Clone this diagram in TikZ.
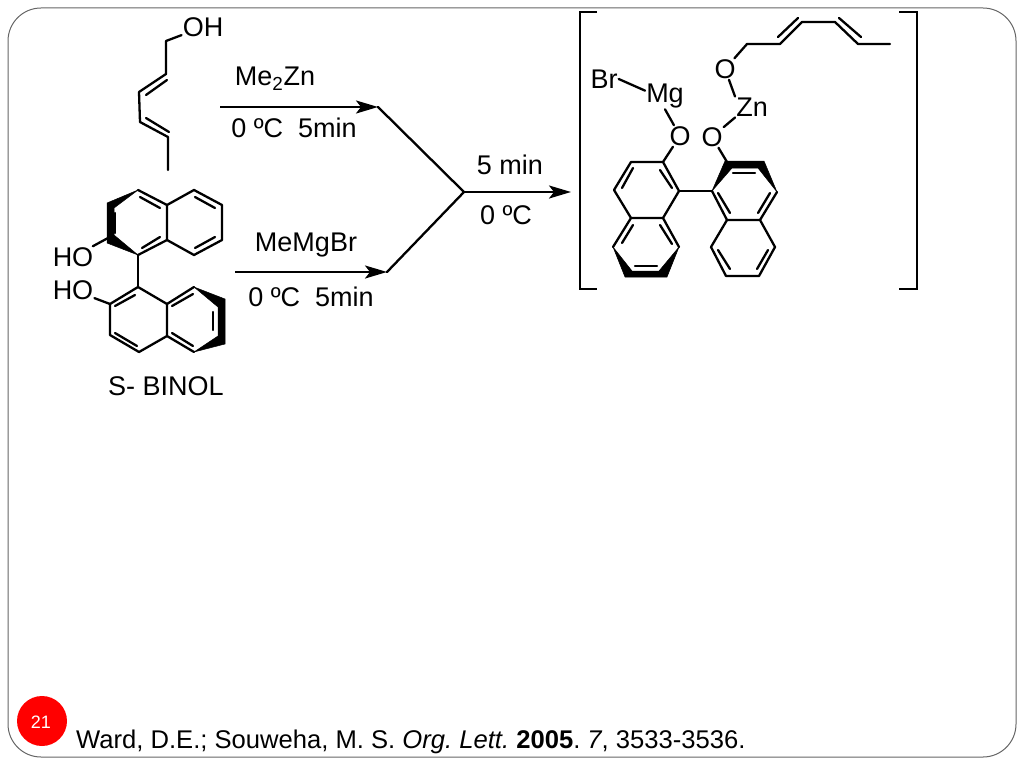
\documentclass[tikz,border=0pt]{standalone}
\usepackage{fontspec}
\setmainfont{Liberation Sans}
\usetikzlibrary{arrows.meta}
\tikzset{
  bond/.style={line width=2.3pt, line cap=round, line join=round},
  arrowline/.style={line width=2.3pt, -{Stealth[length=22pt, width=13pt, inset=5pt]}},
  label/.style={inner sep=1pt, font=\fontsize{27}{32}\selectfont},
  bold/.style={fill=black, draw=black, line width=0.5pt, line join=round}
}
\begin{document}
\begin{tikzpicture}[x=1pt, y=-1pt]
  \useasboundingbox (0, 0) rectangle (1024, 768);
  \draw [line width=1pt, color=black!60, rounded corners=33pt] (8, 8) rectangle (1016, 757);
  \node (pagedot) [circle, fill=red, inner sep=0pt, minimum size=50pt] at (42, 721) {};
  \node (pagenum) [text=white, font=\fontsize{18}{20}\selectfont] at (41, 722) {21};
  \node (cite) [anchor=west, inner sep=0pt, font=\fontsize{25.6}{30}\selectfont\frenchspacing] at (76, 742) {Ward, D.E.; Souweha, M. S. \textit{Org. Lett.} \textbf{2005}. \textit{7}, 3533-3536.};

  % dienol
  \node (dienoh) [label] at (203, 27) {OH};
  \coordinate (dien1) at (166, 41);
  \draw [bond] (dienoh) -- (dien1) -- (166, 74) -- (139, 92) -- (140, 122) -- (168, 137) -- (168, 170);
  \draw [bond] (146, 95) -- (167, 80);
  \draw [bond] (146, 118) -- (169, 132);

  % binol, upper naphthyl
  \coordinate (upc2) at (108, 238);
  \draw [bond] (138, 190) -- (167, 205) -- (167, 240) -- (138, 255);
  \draw [bond] (167, 205) -- (194, 190) -- (222, 205) -- (222, 240) -- (194, 255) -- (167, 240);
  \draw [bond] (115, 213) -- (115, 233);
  \draw [bond] (140, 197) -- (160, 208);
  \draw [bond] (142, 248) -- (160, 237);
  \draw [bond] (195, 197) -- (215, 208);
  \draw [bond] (195, 248) -- (215, 237);
  \fill [bold] (107, 203) -- (138, 190) -- (114, 208) -- (114, 235) -- (138, 255) -- (107, 243) -- cycle;

  % binol, lower naphthyl
  \coordinate (loc2) at (110, 304);
  \draw [bond] (138, 255) -- (138, 287);
  \draw [bond] (138, 287) -- (110, 304) -- (110, 335) -- (139, 352) -- (167, 336) -- (167, 304) -- (138, 287);
  \draw [bond] (167, 304) -- (194, 287);
  \draw [bond] (167, 336) -- (194, 352);
  \draw [bond] (115, 306) -- (135, 295);
  \draw [bond] (115, 333) -- (137, 346);
  \draw [bond] (172, 306) -- (193, 294);
  \draw [bond] (172, 333) -- (193, 346);
  \draw [bond] (213, 312) -- (213, 330);
  \fill [bold] (194, 287) -- (225, 299) -- (225, 344) -- (194, 352) -- (218, 336) -- (218, 307) -- cycle;

  \node (houp) [label] at (73, 257) {HO};
  \node (holo) [label] at (73, 290) {HO};
  \draw [bond] (houp) -- (upc2);
  \draw [bond] (holo) -- (loc2);
  \node (binol) [label] at (166, 386) {S- BINOL};

  % arrows
  \coordinate (me2znstart) at (220, 107);
  \coordinate (me2znend) at (378, 107);
  \coordinate (megstart) at (235, 272);
  \coordinate (megend) at (387, 272);
  \coordinate (joint) at (464, 192);
  \coordinate (prodend) at (571, 192);
  \draw [arrowline] (me2znstart) -- (me2znend);
  \draw [arrowline] (megstart) -- (megend);
  \draw [bond] (me2znend) -- (joint) -- (megend);
  \draw [arrowline] (joint) -- (prodend);
  \node (me2zn) [label] at (275, 79) {Me\textsubscript{2}Zn};
  \node (condup) [label] at (294, 128) {0 ºC~~5min};
  \node (memgbr) [label] at (306, 245) {MeMgBr};
  \node (condlo) [label] at (311, 297) {0 ºC~~5min};
  \node (condtime) [label] at (510, 165) {5 min};
  \node (condtemp) [label] at (506, 215) {0 ºC};

  % brackets
  \draw [bond, line cap=butt, line join=miter] (597, 12) -- (580, 12) -- (580, 289) -- (597, 289);
  \draw [bond, line cap=butt, line join=miter] (899, 12) -- (917, 12) -- (917, 289) -- (899, 289);

  % product, left naphthyl
  \coordinate (lefc2) at (663, 162);
  \draw [bond] (lefc2) -- (631, 162) -- (614, 190) -- (631, 218) -- (663, 218) -- (679, 191) -- (lefc2);
  \draw [bond] (631, 218) -- (613, 247);
  \draw [bond] (663, 218) -- (679, 247);
  \draw [bond] (633, 168) -- (622, 188);
  \draw [bond] (660, 170) -- (672, 188);
  \draw [bond] (633, 225) -- (622, 243);
  \draw [bond] (660, 225) -- (672, 244);
  \draw [bond] (635, 266) -- (657, 266);
  \fill [bold] (613, 247) -- (632, 271) -- (659, 271) -- (679, 247) -- (667, 277) -- (625, 277) -- cycle;

  % product, right naphthyl
  \coordinate (rigc2) at (727, 162);
  \draw [bond] (679, 191) -- (712, 191);
  \draw [bond] (712, 191) -- (727, 220) -- (760, 220) -- (777, 192);
  \draw [bond] (727, 220) -- (711, 247) -- (726, 276) -- (759, 276) -- (775, 247) -- (760, 220);
  \draw [bond] (733, 173) -- (755, 173);
  \draw [bond] (718, 193) -- (730, 213);
  \draw [bond] (770, 193) -- (758, 213);
  \draw [bond] (768, 250) -- (757, 269);
  \draw [bond] (730, 269) -- (718, 250);
  \fill [bold] (712, 191) -- (725, 161) -- (764, 161) -- (777, 192) -- (758, 168) -- (732, 168) -- cycle;

  % product, metals
  \node (brprod) [label] at (604, 79) {Br};
  \node (mgprod) [label] at (665, 96) {Mg};
  \node (oxmg) [label] at (680, 136) {O};
  \node (oxzn) [label] at (712, 137) {O};
  \node (znprod) [label] at (752, 107) {Zn};
  \node (oxchain) [label] at (725, 69) {O};
  \draw [bond] (brprod.east) -- (mgprod.165);
  \draw [bond] (mgprod.south) -- (oxmg);
  \draw [bond] (oxmg) -- (lefc2);
  \draw [bond] (oxzn) -- (rigc2);
  \draw [bond] (oxzn) -- (znprod.south west);
  \draw [bond] (znprod.north west) -- (oxchain);

  % product, dienyl chain
  \coordinate (chain1) at (747, 44);
  \draw [bond] (oxchain) -- (chain1) -- (780, 44) -- (802, 22) -- (835, 22) -- (858, 44) -- (890, 44);
  \draw [bond] (778, 37) -- (798, 18);
  \draw [bond] (839, 18) -- (861, 37);
\end{tikzpicture}
\end{document}
